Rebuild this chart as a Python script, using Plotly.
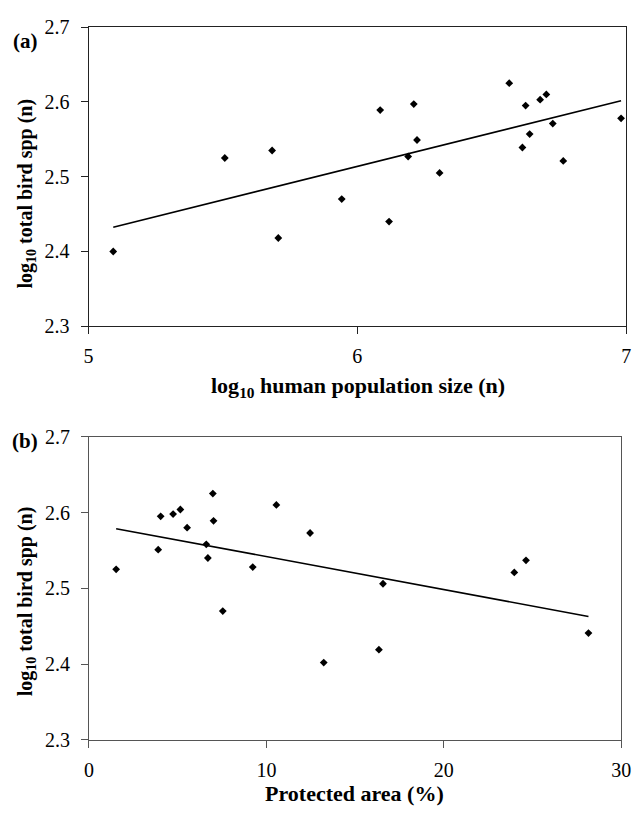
import numpy as np
import plotly.graph_objects as go

# Panel (a): log10 human population size vs log10 total bird spp
pop_log = [5.092, 5.507, 5.683, 5.706, 5.942, 6.085, 6.118, 6.189, 6.210, 6.222,
           6.306, 6.565, 6.614, 6.626, 6.641, 6.680, 6.703, 6.727, 6.766, 6.981]
spp_a = [2.400, 2.525, 2.535, 2.418, 2.470, 2.589, 2.440, 2.527, 2.597, 2.549,
         2.505, 2.625, 2.539, 2.595, 2.557, 2.603, 2.610, 2.571, 2.521, 2.578]

# Panel (b): protected area (%) vs log10 total bird spp
prot = [1.53, 3.90, 4.04, 4.74, 5.15, 5.53, 6.61, 6.70, 6.98, 7.02,
        7.54, 9.23, 10.56, 12.46, 13.23, 16.34, 16.57, 23.97, 24.63, 28.15]
spp_b = [2.525, 2.551, 2.595, 2.598, 2.604, 2.580, 2.558, 2.540, 2.625, 2.589,
         2.470, 2.528, 2.610, 2.573, 2.402, 2.419, 2.506, 2.521, 2.537, 2.441]

xticks_a = [5, 6, 7]
xticks_b = [0, 10, 20, 30]
yticks = [2.3, 2.4, 2.5, 2.6, 2.7]

W, H = 643, 819
def px(x): return x / W
def py(y): return 1 - y / H

FONT = "Liberation Serif"
fig = go.Figure()

def add_panel(xs, ys, xa, ya):
    fig.add_trace(go.Scatter(x=xs, y=ys, mode="markers", xaxis=xa, yaxis=ya,
                             marker=dict(symbol="diamond", size=6, color="black"),
                             showlegend=False))
    m, b = np.polyfit(xs, ys, 1)
    lx = np.array([min(xs), max(xs)])
    fig.add_trace(go.Scatter(x=lx, y=m * lx + b, mode="lines", xaxis=xa, yaxis=ya,
                             line=dict(color="black", width=1.6), showlegend=False))

add_panel(pop_log, spp_a, "x", "y")
add_panel(prot, spp_b, "x2", "y2")

def axis_common(color, standoff):
    return dict(showgrid=False, zeroline=False, showline=True, linecolor=color,
                linewidth=1, mirror=True, ticks="outside", ticklen=7, tickcolor=color,
                ticklabelstandoff=standoff,
                tickfont=dict(family=FONT, size=20, color="black"))

fig.update_layout(
    width=W, height=H, margin=dict(l=0, r=0, t=0, b=0),
    paper_bgcolor="white", plot_bgcolor="white",
    xaxis=dict(domain=[px(85.5), px(636)], range=[5, 7], tickvals=xticks_a,
               anchor="y", **axis_common("#222", 5)),
    yaxis=dict(domain=[py(324), py(16.5)], range=[2.3, 2.7], tickvals=yticks,
               ticktext=[f"{v:.1f}" for v in yticks], anchor="x", **axis_common("#222", 7)),
    xaxis2=dict(domain=[px(86), px(631)], range=[0, 30], tickvals=xticks_b,
                anchor="y2", **axis_common("#555", 5)),
    yaxis2=dict(domain=[py(749), py(437.5)], range=[2.3, 2.7], tickvals=yticks,
                ticktext=[f"{v:.1f}" for v in yticks], anchor="x2", **axis_common("#555", 7)),
)

ann = []
def text(x, y, s, size, angle=0):
    ann.append(dict(x=px(x), y=py(y), xref="paper", yref="paper", text=s, showarrow=False,
                    xanchor="center", yanchor="middle", textangle=angle,
                    font=dict(family=FONT, size=size, color="black")))

text(20.5, 31, "<b>(a)</b>", 21)
text(20.5, 442, "<b>(b)</b>", 21)
text(361, 386, "<b>log<sub>10</sub> human population size (n)</b>", 22)
text(22, 187, "<b>log<sub>10</sub> total bird spp (n)</b>", 20, -90)
text(358, 804, "<b>Protected area (%)</b>", 22)
text(22, 606, "<b>log<sub>10</sub> total bird spp (n)</b>", 20, -90)
fig.update_layout(annotations=ann)

fig.write_html("out.html")
